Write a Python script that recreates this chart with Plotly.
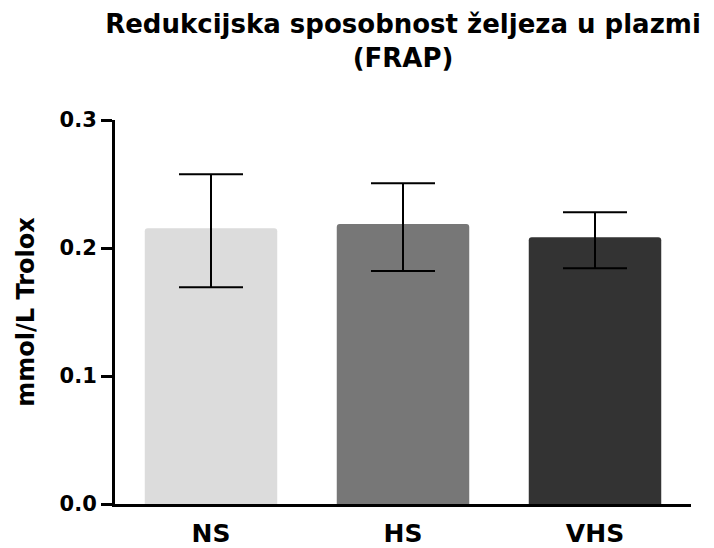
import plotly.graph_objects as go

categories = ["NS", "HS", "VHS"]
means = [0.2155, 0.2188, 0.2084]
errors_plus = [0.0421, 0.0318, 0.0195]
errors_minus = [0.0461, 0.0367, 0.0242]
colors = ["#dcdcdc", "#777777", "#333333"]
ytick_vals = [0.0, 0.1, 0.2, 0.3]
ytick_text = ["0.0", "0.1", "0.2", "0.3"]

font_family = "DejaVu Sans, Liberation Sans, Arial, sans-serif"

# page has an 8px body margin: figure is 706x540 placed at (8, 8)
W, H = 706, 540
L, T, R, B = 107, 112, 23, 44

fig = go.Figure()
fig.add_trace(go.Bar(
    x=categories,
    y=means,
    width=0.69,
    marker=dict(color=colors, line=dict(width=0), cornerradius=3),
    error_y=dict(type="data", symmetric=False, array=errors_plus,
                 arrayminus=errors_minus, visible=True,
                 color="black", thickness=2, width=32),
))

fig.update_layout(
    width=W, height=H,
    paper_bgcolor="white", plot_bgcolor="white",
    margin=dict(l=L, r=R, t=T, b=B, autoexpand=False),
    showlegend=False,
    title=dict(
        text="Redukcijska sposobnost željeza u plazmi<br>(FRAP)",
        x=(L + (W - R)) / 2 / W, xanchor="center",
        y=1 - 25 / H, yanchor="top", yref="container",
        font=dict(family=font_family, size=26, color="black", weight="bold"),
    ),
    font=dict(family=font_family, color="black"),
)

fig.update_xaxes(
    range=[-0.5, 2.5],
    showline=True, linewidth=3, linecolor="black",
    ticks="", showgrid=False, zeroline=False,
    tickfont=dict(family=font_family, size=25, color="black", weight="bold"),
    ticklabelstandoff=5,
)
fig.update_yaxes(
    range=[0, 0.3],
    tickvals=ytick_vals, ticktext=ytick_text,
    showline=True, linewidth=3, linecolor="black",
    ticks="outside", ticklen=11, tickwidth=3, tickcolor="black",
    showgrid=False, zeroline=False,
    tickfont=dict(family=font_family, size=21, color="black", weight="bold"),
    title=dict(text="mmol/L Trolox", standoff=19,
               font=dict(family=font_family, size=24, color="black", weight="bold")),
    automargin=False,
)

fig.write_html("out.html")
